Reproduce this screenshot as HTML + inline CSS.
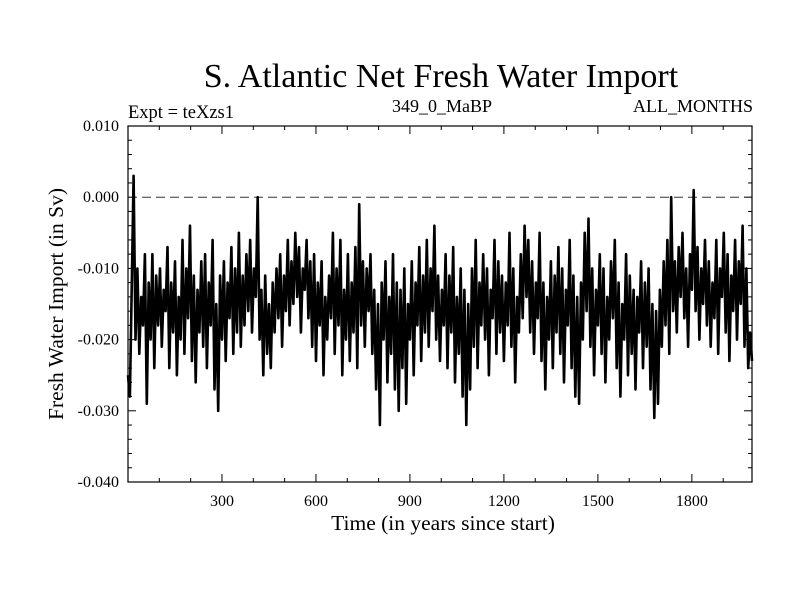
<!DOCTYPE html>
<html><head><meta charset="utf-8"><style>
body{margin:0;background:#fff}
svg text{font-family:"Liberation Serif",serif;fill:#000}
</style></head><body>
<svg id="chart" width="800" height="600">
<text x="441" y="87" font-size="34" text-anchor="middle">S. Atlantic Net Fresh Water Import</text>
<text x="128" y="118" font-size="18.5">Expt = teXzs1</text>
<text x="442" y="112" font-size="18" text-anchor="middle">349_0_MaBP</text>
<text x="753" y="112" font-size="18" text-anchor="end">ALL_MONTHS</text>
<text x="443" y="530" font-size="21.5" text-anchor="middle">Time (in years since start)</text>
<text transform="translate(63,304) rotate(-90)" font-size="21.5" text-anchor="middle">Fresh Water Import (in Sv)</text>
<g id="axes"></g>
<rect x="128" y="126" width="624" height="356" fill="none" stroke="#000" stroke-width="1.2"/>
</svg>
<script>
const xTicks=[300,600,900,1200,1500,1800];
const yTicks=[0.010,0.000,-0.010,-0.020,-0.030,-0.040];
const yTickLabels=["0.010","0.000","-0.010","-0.020","-0.030","-0.040"];
const startYear=0;
const yearStep=6;
const values=[
-25,-28,-12,3,-20,-10,-22,-14,-18,-8,
-29,-12,-20,-8,-24,-11,-18,-10,-21,-13,
-16,-7,-24,-12,-19,-9,-25,-14,-20,-6,
-22,-10,-17,-4,-23,-11,-26,-13,-19,-9,
-21,-8,-24,-12,-18,-6,-27,-15,-30,-11,
-20,-9,-23,-12,-17,-7,-22,-10,-19,-5,
-21,-11,-18,-8,-16,-6,-19,-10,-14,0,
-20,-13,-25,-11,-22,-15,-24,-12,-19,-10,
-17,-8,-21,-11,-16,-6,-18,-9,-15,-5,
-14,-7,-19,-10,-13,-6,-17,-9,-21,-8,
-23,-12,-18,-9,-25,-14,-20,-11,-17,-5,
-22,-10,-18,-6,-25,-13,-20,-8,-23,-12,
-19,-7,-24,-1,-18,-9,-21,-10,-16,-8,
-22,-13,-27,-15,-32,-12,-20,-9,-26,-14,
-22,-8,-27,-12,-30,-13,-24,-10,-29,-15,
-20,-9,-25,-12,-18,-7,-23,-11,-19,-6,
-21,-10,-16,-4,-20,-11,-23,-13,-18,-8,
-24,-11,-19,-7,-26,-14,-22,-10,-28,-13,
-32,-15,-27,-10,-21,-6,-24,-12,-18,-8,
-20,-10,-25,-13,-17,-6,-22,-9,-19,-11,
-23,-12,-18,-5,-21,-10,-26,-14,-19,-8,
-17,-4,-14,-6,-19,-9,-22,-12,-17,-5,
-23,-12,-27,-14,-20,-9,-24,-11,-19,-7,
-22,-10,-26,-13,-18,-6,-24,-11,-28,-14,
-29,-12,-20,-5,-16,-3,-21,-10,-25,-13,
-18,-8,-22,-10,-26,-14,-20,-9,-17,-6,
-24,-12,-28,-15,-20,-8,-25,-11,-22,-13,
-27,-14,-19,-9,-24,-12,-21,-10,-27,-15,
-31,-16,-29,-13,-21,-9,-18,-6,-22,0,
-16,-9,-19,-7,-14,-5,-17,-10,-21,-8,
-13,1,-16,-7,-20,-10,-15,-6,-18,-9,
-21,-12,-17,-6,-22,-10,-14,-5,-19,-8,
-23,-11,-16,-6,-20,-9,-15,-4,-21,-10,
-24,-19,-23];
const X0=128,X1=752,Y0=126,Y1=482,xMin=0,xMax=1992,yMin=-0.040,yMax=0.010;
const xs=v=>X0+(v-xMin)/(xMax-xMin)*(X1-X0);
const ys=v=>Y1-(v-yMin)/(yMax-yMin)*(Y1-Y0);
const NS="http://www.w3.org/2000/svg";
const g=document.getElementById('axes');
function mk(t,a){const e=document.createElementNS(NS,t);for(const k in a)e.setAttribute(k,a[k]);return e;}
for(let yr=100;yr<xMax;yr+=100){
 const x=xs(yr),L=(yr%300===0)?8:4;
 const t1=mk('line',{x1:x,x2:x,y1:Y1,y2:Y1-L,stroke:'#000'});
 
 
 g.appendChild(t1);
 const t2=mk('line',{x1:x,x2:x,y1:Y0,y2:Y0+L,stroke:'#000'});
 
 
 g.appendChild(t2);
}
for(let i=1;i<25;i++){
 const v=yMin+i*0.002,y=ys(v),L=(i%5===0)?8:4;
 const t1=mk('line',{x1:X0,x2:X0+L,y1:y,y2:y,stroke:'#000'});
 
 
 g.appendChild(t1);
 const t2=mk('line',{x1:X1,x2:X1-L,y1:y,y2:y,stroke:'#000'});
 
 
 g.appendChild(t2);
}
xTicks.forEach(v=>{
 const t=mk('text',{x:xs(v),y:Y1+24,'font-size':16,'text-anchor':'middle'});
 t.textContent=v;
 
 
 g.appendChild(t);
});
yTicks.forEach((v,i)=>{
 const t=mk('text',{x:X0-9,y:ys(v)+5,'font-size':16,'text-anchor':'end'});
 t.textContent=yTickLabels[i];
 
 
 g.appendChild(t);
});
const zl=mk('line',{x1:X0,x2:X1,y1:ys(0),y2:ys(0),stroke:'#333','stroke-dasharray':'9,5'});


g.appendChild(zl);
const pts=values.map((v,i)=>xs(startYear+i*yearStep).toFixed(1)+','+ys(v/1000).toFixed(1)).join(' ');
const pl=mk('polyline',{points:pts,fill:'none',stroke:'#000','stroke-width':2.6,'stroke-linejoin':'round'});


g.appendChild(pl);
</script>
</body></html>
